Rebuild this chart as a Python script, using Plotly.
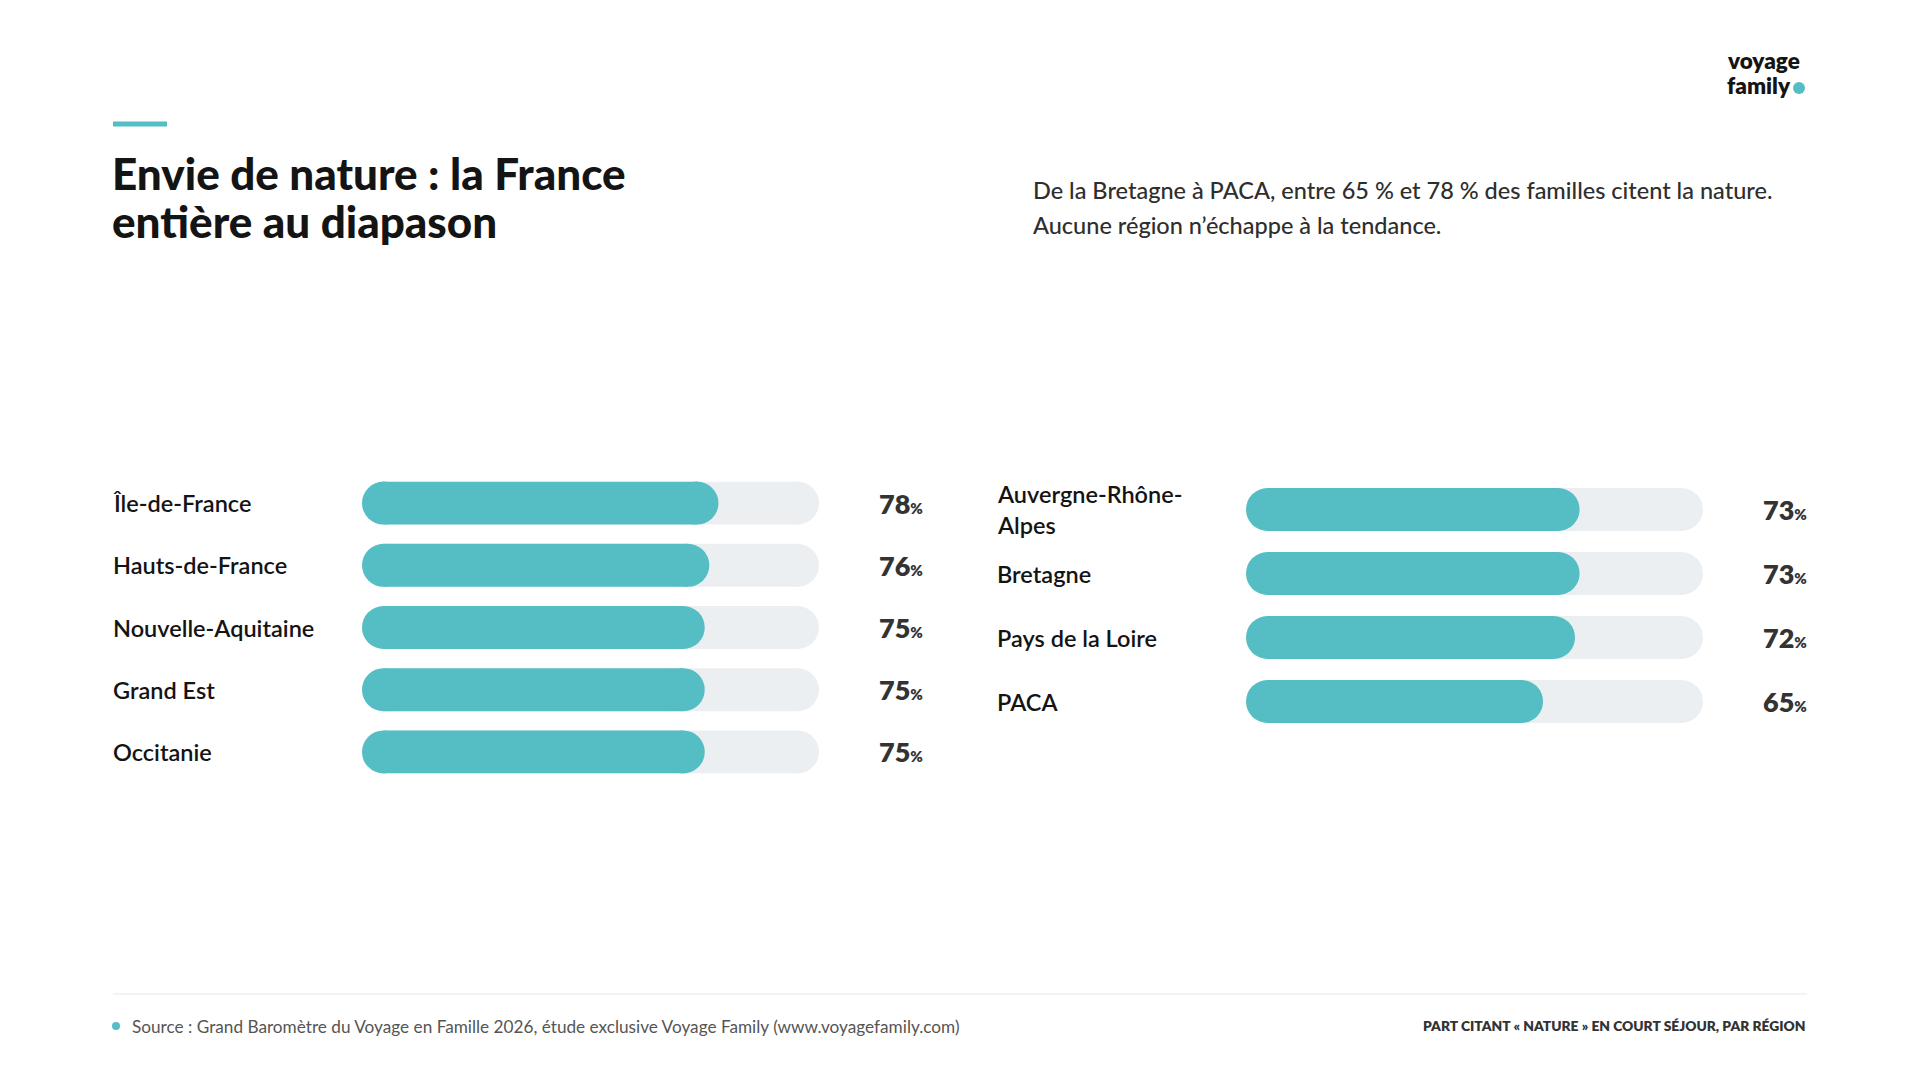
import plotly.graph_objects as go

W, H = 1920, 1080

# ---------------- data ----------------
left_regions = ["Île-de-France", "Hauts-de-France", "Nouvelle-Aquitaine", "Grand Est", "Occitanie"]
left_values = [78, 76, 75, 75, 75]
right_regions = ["Auvergne-Rhône-Alpes", "Bretagne", "Pays de la Loire", "PACA"]
right_values = [73, 73, 72, 65]
track_max = 100

title_lines = ["Envie de nature : la France", "entière au diapason"]
subtitle_lines = ["De la Bretagne à PACA, entre 65 % et 78 % des familles citent la nature.",
                  "Aucune région n’échappe à la tendance."]
logo_lines = ["voyage", "family"]
source_text = "Source : Grand Baromètre du Voyage en Famille 2026, étude exclusive Voyage Family (www.voyagefamily.com)"
footer_right = "PART CITANT « NATURE » EN COURT SÉJOUR, PAR RÉGION"

TEAL = "#55BDC4"
TRACK = "#ECEFF2"
DARK = "#141414"
FONT = "Lato"

# layout geometry (pixels)
BAR_PX = 43
TRACK_X0, TRACK_X1 = 362, 819
TRACK2_X0, TRACK2_X1 = 1246, 1703
R_UNITS = (BAR_PX / 2) / (TRACK_X1 - TRACK_X0) * track_max  # pill end radius in data units


def px(x):
    return x / W


def py(y):
    return 1 - y / H


def label_text(name):
    if name == "Auvergne-Rhône-Alpes":
        return "Auvergne-Rhône-<br>Alpes"
    return name


fig = go.Figure()


def add_pills(regions, values, xa, ya, width):
    n = len(regions)
    # track body
    fig.add_trace(go.Bar(x=[track_max - 2 * R_UNITS] * n, base=[R_UNITS] * n, y=regions, orientation="h",
                         marker=dict(color=TRACK, line=dict(width=0)), width=width,
                         xaxis=xa, yaxis=ya, hoverinfo="skip", showlegend=False))
    # fill body
    fig.add_trace(go.Bar(x=[v - 2 * R_UNITS for v in values], base=[R_UNITS] * n, y=regions, orientation="h",
                         marker=dict(color=TEAL, line=dict(width=0)), width=width,
                         xaxis=xa, yaxis=ya, hoverinfo="skip", showlegend=False))
    # rounded right end of the track
    fig.add_trace(go.Scatter(x=[track_max - R_UNITS] * n, y=regions, mode="markers",
                             marker=dict(color=TRACK, size=BAR_PX, line=dict(width=0)),
                             xaxis=xa, yaxis=ya, hoverinfo="skip", showlegend=False))
    # rounded ends of the fill
    fig.add_trace(go.Scatter(x=[R_UNITS] * n + [v - R_UNITS for v in values], y=regions + regions,
                             mode="markers", marker=dict(color=TEAL, size=BAR_PX, line=dict(width=0)),
                             xaxis=xa, yaxis=ya, hoverinfo="skip", showlegend=False))


add_pills(left_regions, left_values, "x", "y", 0.69)
add_pills(right_regions, right_values, "x2", "y2", 0.67)

ax_common = dict(visible=False, showgrid=False, zeroline=False, fixedrange=True)

annotations = []
for reg, v in zip(left_regions, left_values):
    annotations.append(dict(x=px(111), xref="paper", y=reg, yref="y", text=label_text(reg),
                            xanchor="left", yanchor="middle", showarrow=False,
                            font=dict(family=FONT, size=23.5, color=DARK, weight=600)))
    annotations.append(dict(x=px(925), xref="paper", y=reg, yref="y",
                            text=f"{v}<span style='font-size:15px'>%</span>",
                            xanchor="right", yanchor="middle", showarrow=False,
                            font=dict(family=FONT, size=27, color="#333333", weight=800)))
for reg, v in zip(right_regions, right_values):
    annotations.append(dict(x=px(995), xref="paper", y=reg, yref="y2", text=label_text(reg),
                            xanchor="left", yanchor="middle", showarrow=False, align="left",
                            font=dict(family=FONT, size=23.5, color=DARK, weight=600)))
    annotations.append(dict(x=px(1809), xref="paper", y=reg, yref="y2",
                            text=f"{v}<span style='font-size:15px'>%</span>",
                            xanchor="right", yanchor="middle", showarrow=False,
                            font=dict(family=FONT, size=27, color="#333333", weight=800)))

# title
for i, t in enumerate(title_lines):
    annotations.append(dict(x=px(110), y=py(173 + i * 48), xref="paper", yref="paper", text=t,
                            xanchor="left", yanchor="middle", showarrow=False,
                            font=dict(family=FONT, size=44, color=DARK, weight=900)))
# subtitle
for i, t in enumerate(subtitle_lines):
    annotations.append(dict(x=px(1031), y=py(190 + i * 35), xref="paper", yref="paper", text=t,
                            xanchor="left", yanchor="middle", showarrow=False,
                            font=dict(family=FONT, size=23.5, color="#2E2E2E", weight=500)))
# logo
for i, t in enumerate(logo_lines):
    annotations.append(dict(x=px(1725), y=py(60 + i * 26), xref="paper", yref="paper", text=t,
                            xanchor="left", yanchor="middle", showarrow=False,
                            font=dict(family=FONT, size=22.5, color=DARK, weight=800)))
# footer
annotations.append(dict(x=px(130), y=py(1026), xref="paper", yref="paper", text=source_text,
                        xanchor="left", yanchor="middle", showarrow=False,
                        font=dict(family=FONT, size=17.2, color="#555555")))
annotations.append(dict(x=px(1808), y=py(1025), xref="paper", yref="paper", text=footer_right,
                        xanchor="right", yanchor="middle", showarrow=False,
                        font=dict(family=FONT, size=13.8, color="#333333", weight=800)))

shapes = [
    dict(type="line", xref="paper", yref="paper", x0=px(113), x1=px(167), y0=py(124), y1=py(124),
         line=dict(color=TEAL, width=5)),
    dict(type="line", xref="paper", yref="paper", x0=px(113), x1=px(1807), y0=py(994), y1=py(994),
         line=dict(color="#E8E8E8", width=1)),
    dict(type="circle", xref="paper", yref="paper", x0=px(112), x1=px(120), y0=py(1030), y1=py(1022),
         fillcolor=TEAL, line=dict(width=0)),
    dict(type="circle", xref="paper", yref="paper", x0=px(1793), x1=px(1805), y0=py(94), y1=py(82),
         fillcolor=TEAL, line=dict(width=0)),
]

fig.update_layout(
    width=W, height=H, autosize=False,
    margin=dict(l=0, r=0, t=0, b=0),
    paper_bgcolor="white", plot_bgcolor="white",
    barmode="overlay",
    xaxis=dict(domain=[px(TRACK_X0), px(TRACK_X1)], range=[0, track_max], anchor="y", **ax_common),
    yaxis=dict(domain=[py(783), py(472)], range=[len(left_regions) - 0.5, -0.5], anchor="x",
               type="category", **ax_common),
    xaxis2=dict(domain=[px(TRACK2_X0), px(TRACK2_X1)], range=[0, track_max], anchor="y2", **ax_common),
    yaxis2=dict(domain=[py(733.5), py(477.5)], range=[len(right_regions) - 0.5, -0.5], anchor="x2",
                type="category", **ax_common),
    annotations=annotations,
    shapes=shapes,
    font=dict(family=FONT),
)

fig.write_html("out.html", config={"displayModeBar": False})
